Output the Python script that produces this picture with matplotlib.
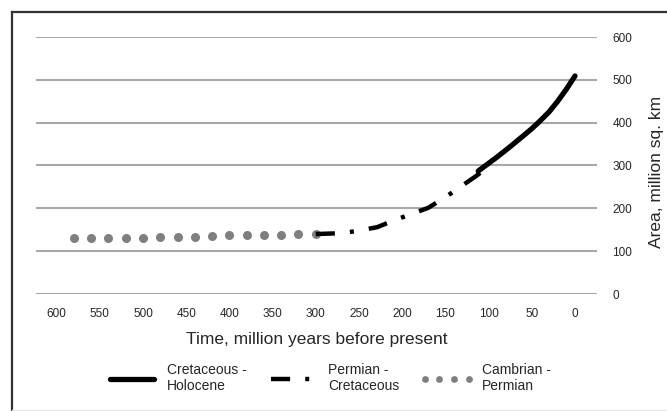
import matplotlib
matplotlib.use("Agg")
import matplotlib.pyplot as plt
from matplotlib.lines import Line2D

# Cambrian - Permian (grey dots)
cambrian_t = [580, 560, 540, 520, 500, 480, 460, 440, 420, 400, 380, 360, 340, 320, 300]
cambrian_area = [131, 131, 131, 131, 131, 132, 133, 134, 136, 137, 137, 137, 138, 139, 140]

# Permian - Cretaceous (dash-dot)
permian_t = [300, 270, 250, 229, 208, 189, 170, 150, 132, 114, 100]
permian_area = [140, 142, 148, 156, 173, 187, 201, 226, 251, 276, 298]

# Cretaceous - Holocene (thick solid)
cretaceous_t = [112, 104, 90, 75, 60, 50, 42, 30, 20, 10, 0]
cretaceous_area = [287, 299, 320, 344, 369, 386, 401, 425, 450, 478, 509]

x_ticks = [600, 550, 500, 450, 400, 350, 300, 250, 200, 150, 100, 50, 0]
y_ticks = [0, 100, 200, 300, 400, 500, 600]

plt.rcParams["font.family"] = ["Liberation Sans", "DejaVu Sans"]

W, H = 667, 411
fig = plt.figure(figsize=(W / 100, H / 100), dpi=100)
ax = fig.add_axes([36 / W, (H - 294) / H, (597 - 36) / W, (294 - 37) / H])

ax.plot(cambrian_t, cambrian_area, linestyle="none", marker="o", markersize=6.5,
        color="#7f7f7f", markeredgewidth=0, label="Cambrian -\nPermian", zorder=3)
ax.plot(permian_t, permian_area, color="black", linewidth=3.2,
        dashes=(4.3, 3.4, 0.9, 3.4), label="Permian -\nCretaceous", zorder=4)
ax.plot(cretaceous_t, cretaceous_area, color="black", linewidth=3.8,
        solid_capstyle="round", solid_joinstyle="round",
        label="Cretaceous -\nHolocene", zorder=5)

ax.set_xlim(623.8, -25.5)
ax.set_ylim(0, 600)
ax.set_xticks(x_ticks)
ax.set_yticks(y_ticks)
ax.yaxis.tick_right()
ax.tick_params(axis="both", length=0, labelsize=8.5, colors="#262626")
ax.tick_params(axis="x", pad=10)
ax.tick_params(axis="y", pad=11)
for lbl in ax.get_yticklabels():
    lbl.set_horizontalalignment("left")
ax.grid(axis="y", color="#a8a8a8", linewidth=1.5)
ax.set_axisbelow(True)
for s in ax.spines.values():
    s.set_visible(False)

ax.set_xlabel("Time, million years before present", fontsize=12.5, color="#262626", labelpad=9)
fig.text(657 / W, 1 - 172 / H, "Area, million sq. km", rotation=90, fontsize=12.5,
         color="#262626", ha="center", va="center")

handles, labels = ax.get_legend_handles_labels()
order = [2, 1, 0]
leg = fig.legend([handles[i] for i in order], [labels[i] for i in order],
                 loc="center", bbox_to_anchor=(328 / W, 1 - 378 / H), ncol=3,
                 frameon=False, fontsize=10, handlelength=3.8, numpoints=4,
                 markerscale=0.75, columnspacing=1.5, handletextpad=0.6,
                 labelspacing=0.2)
for t in leg.get_texts():
    t.set_color("#262626")

# outer frame
fig.add_artist(Line2D([12 / W, 12 / W], [0, 1 - 12 / H], color="#333333", linewidth=1.6))
fig.add_artist(Line2D([12 / W, 1], [1 - 12 / H, 1 - 12 / H], color="#333333", linewidth=1.6))
fig.add_artist(Line2D([12 / W, 1], [1.5 / H, 1.5 / H], color="#e6e6e6", linewidth=1))

fig.savefig("out.png", dpi=100)
